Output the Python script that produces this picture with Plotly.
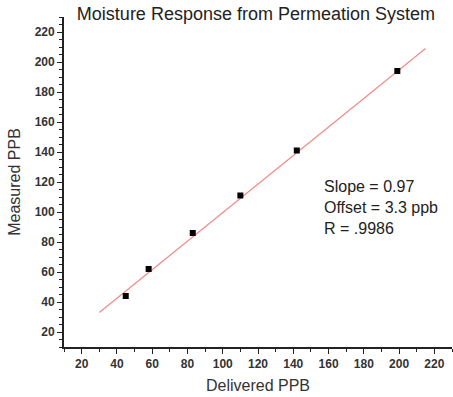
import plotly.graph_objects as go

delivered = [45, 58, 83, 110, 142, 199]
measured = [44, 62, 86, 111, 141, 194]
fit_x = [30, 215]
fit_y = [33, 209]
title_text = "Moisture Response from Permeation System"
stats_lines = ["Slope = 0.97", "Offset = 3.3 ppb", "R = .9986"]

font_family = "Liberation Sans, Arial, sans-serif"

fig = go.Figure()
fig.add_trace(go.Scatter(x=fit_x, y=fit_y, mode="lines",
                         line=dict(color="#f28a8a", width=1.2), showlegend=False))
fig.add_trace(go.Scatter(x=delivered, y=measured, mode="markers",
                         marker=dict(symbol="square", size=6, color="black"),
                         showlegend=False))

axis_common = dict(
    showgrid=False, zeroline=False, showline=True, linecolor="#222", linewidth=1.8,
    ticks="outside", ticklen=5, tickwidth=1.3, tickcolor="#222",
    dtick=20, tick0=0,
    tickfont=dict(family=font_family, size=12, color="#333", weight="bold"),
    minor=dict(ticks="outside", ticklen=3, tickwidth=1.1, tickcolor="#222"),
)

fig.update_layout(
    width=453, height=397,
    margin=dict(l=64, r=1, t=17, b=50),
    paper_bgcolor="white", plot_bgcolor="white",
    font=dict(family=font_family, color="#222"),
    title=dict(text=title_text, x=0.565, xanchor="center", y=0.982, yanchor="top",
               font=dict(size=18, family=font_family, color="#222")),
    xaxis=dict(range=[10, 230], title=dict(text="Delivered PPB", standoff=10,
               font=dict(size=16, family=font_family, color="#333")), **axis_common),
    yaxis=dict(range=[10, 230], title=dict(text="Measured PPB", standoff=10,
               font=dict(size=16, family=font_family, color="#333")), **axis_common),
)
fig.update_xaxes(minor=dict(dtick=10))
fig.update_yaxes(minor=dict(dtick=5))

fig.add_annotation(text="<br>".join(stats_lines), xref="paper", yref="paper",
                   x=(322 - 64) / 388, y=(347 - 176) / 330, xanchor="left", yanchor="top",
                   align="left", showarrow=False,
                   font=dict(size=16, family=font_family, color="#222"))

fig.write_html("out.html")
